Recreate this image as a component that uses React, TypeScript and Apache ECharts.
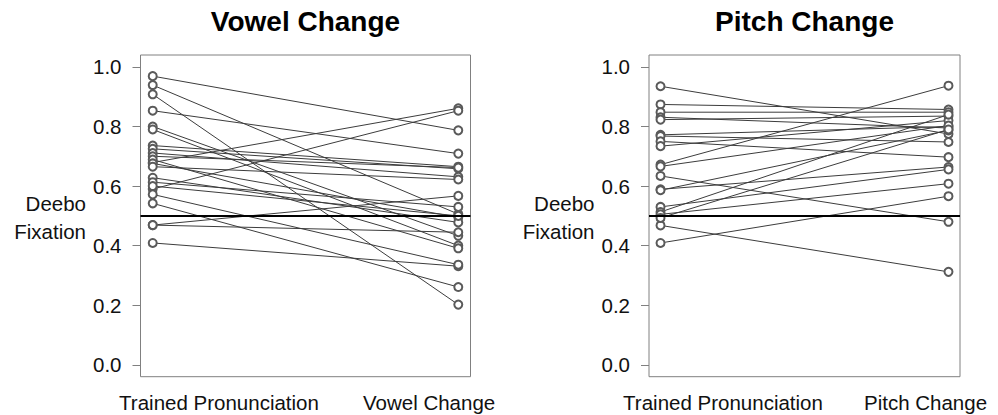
import React, { useEffect, useRef } from "react";
import * as echarts from "echarts";

const FONT = "'Liberation Sans', Arial, Helvetica, sans-serif";

const panelTitles = ["Vowel Change", "Pitch Change"];
const conditionLabels = [
  ["Trained Pronunciation", "Vowel Change"],
  ["Trained Pronunciation", "Pitch Change"],
];
const yTicks = [0, 0.2, 0.4, 0.6, 0.8, 1.0];
const chanceLevel = 0.5;

const vowelTrained = [0.969, 0.939, 0.908, 0.853, 0.8, 0.79, 0.679, 0.59, 0.469, 0.409, 0.542, 0.469, 0.572, 0.736, 0.725, 0.711, 0.7, 0.689, 0.676, 0.665, 0.628, 0.613, 0.6];
const vowelChange = [0.787, 0.506, 0.202, 0.709, 0.433, 0.4, 0.861, 0.853, 0.567, 0.331, 0.261, 0.445, 0.336, 0.665, 0.658, 0.631, 0.662, 0.391, 0.495, 0.622, 0.478, 0.53, 0.5];

const pitchTrained = [0.672, 0.468, 0.634, 0.409, 0.935, 0.874, 0.848, 0.831, 0.823, 0.772, 0.768, 0.75, 0.734, 0.666, 0.589, 0.586, 0.53, 0.513, 0.505, 0.493];
const pitchChange = [0.937, 0.312, 0.48, 0.566, 0.775, 0.857, 0.848, 0.795, 0.835, 0.8, 0.748, 0.697, 0.82, 0.803, 0.664, 0.787, 0.656, 0.84, 0.608, 0.79];

export default function App() {
  const ref = useRef<HTMLDivElement>(null);
  useEffect(() => {
    if (!ref.current) return;
    const chart = echarts.init(ref.current, null, { renderer: "svg" });

    const grids = [
      { left: 140.5, top: 55, width: 330, height: 321.7 },
      { left: 649, top: 55, width: 311, height: 321.7 },
    ];

    const panels = [
      [vowelTrained, vowelChange],
      [pitchTrained, pitchChange],
    ];

    const series: any[] = [];
    panels.forEach(([a, b], gi) => {
      a.forEach((v, i) => {
        series.push({
          type: "line",
          xAxisIndex: gi,
          yAxisIndex: gi,
          data: [
            [1, v],
            [2, b[i]],
          ],
          symbol: "emptyCircle",
          symbolSize: 8,
          silent: true,
          lineStyle: { color: "#3c3c3c", width: 1 },
          itemStyle: { color: "#5a5a5a", borderWidth: 0.9 },
          z: 2,
        });
      });
      series.push({
        type: "line",
        xAxisIndex: gi,
        yAxisIndex: gi,
        data: [],
        silent: true,
        markLine: {
          silent: true,
          symbol: "none",
          label: { show: false },
          lineStyle: { color: "#000", width: 2, type: "solid" },
          data: [{ yAxis: chanceLevel }],
        },
        z: 3,
      });
    });

    const graphic: any[] = [];
    grids.forEach((g, gi) => {
      graphic.push({
        type: "text",
        x: g.left + g.width / 2,
        y: 21,
        style: {
          text: panelTitles[gi],
          font: `bold 28px ${FONT}`,
          fill: "#000",
          textAlign: "center",
          textVerticalAlign: "middle",
        },
      });
      graphic.push({
        type: "text",
        x: g.left - 54.5,
        y: 203.5,
        style: { text: "Deebo", font: `20.5px ${FONT}`, fill: "#111", textAlign: "right", textVerticalAlign: "middle" },
      });
      graphic.push({
        type: "text",
        x: g.left - 54.5,
        y: 231,
        style: { text: "Fixation", font: `20.5px ${FONT}`, fill: "#111", textAlign: "right", textVerticalAlign: "middle" },
      });
    });
    // label anchor: [x, align]
    const catPos: [number, string][][] = [
      [[219, "center"], [363, "left"]],
      [[723, "center"], [925.5, "center"]],
    ];
    conditionLabels.forEach((labs, gi) => {
      labs.forEach((t, k) => {
        graphic.push({
          type: "text",
          x: catPos[gi][k][0],
          y: 402,
          style: { text: t, font: `20.5px ${FONT}`, fill: "#111", textAlign: catPos[gi][k][1], textVerticalAlign: "middle" },
        });
      });
    });

    chart.setOption({
      animation: false,
      backgroundColor: "#fff",
      grid: grids.map((g) => ({ ...g, show: true, borderColor: "#808080", borderWidth: 1, backgroundColor: "transparent" })),
      xAxis: grids.map((_, gi) => ({
        type: "value",
        gridIndex: gi,
        min: 0.96,
        max: 2.04,
        axisLine: { show: false },
        axisTick: { show: false },
        axisLabel: { show: false },
        splitLine: { show: false },
      })),
      yAxis: grids.map((_, gi) => ({
        type: "value",
        gridIndex: gi,
        min: -0.04,
        max: 1.04,
        axisLine: { show: false },
        axisTick: { show: true, length: 8, customValues: yTicks, lineStyle: { color: "#808080" } },
        axisLabel: {
          show: true,
          customValues: yTicks,
          margin: 19,
          fontSize: 20.5,
          fontFamily: FONT,
          color: "#111",
          formatter: (v: number) => v.toFixed(1),
        },
        splitLine: { show: false },
      })),
      series,
      graphic,
    });

    return () => chart.dispose();
  }, []);

  return (
    <div
      ref={ref}
      style={{ position: "fixed", left: 0, top: 0, width: 998, height: 415, background: "#fff" }}
    />
  );
}
